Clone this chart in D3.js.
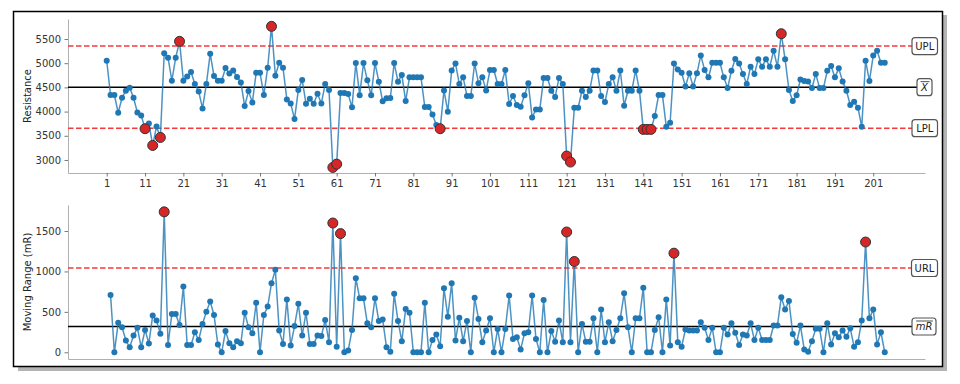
<!DOCTYPE html>
<html>
<head>
<meta charset="utf-8">
<script src="https://cdn.jsdelivr.net/npm/d3@7"></script>
<style>
  body { margin: 0; background: #fff; }
  text { font-family: "DejaVu Sans", sans-serif; }
</style>
</head>
<body>
<div id="chart"></div>
<script>
// individual values (resistance)
var resistance = [
  5051, 4341, 4341, 3976, 4286, 4431, 4493, 4286, 3983, 3921,
  3646, 3756, 3301, 3694, 3466, 5203, 5113, 4638, 5113, 5451,
  4638, 4727, 4817, 4569, 4417, 4066, 4569, 5196, 4734, 4638,
  4638, 4900, 4789, 4851, 4714, 4603, 4114, 4424, 4190, 4803,
  4803, 4341, 4906, 5761, 4741, 5010, 4906, 4252, 4169, 3845,
  4445, 4652, 4162, 4266, 4162, 4369, 4169, 4569, 4445, 2846,
  2915, 4383, 4383, 4362, 4087, 5003, 4335, 5003, 4645, 4335,
  5003, 4617, 4211, 4273, 4280, 5003, 4617, 4755, 4218, 4707,
  4707, 4707, 4707, 4093, 4093, 3942, 3721, 3646, 4438, 3997,
  4851, 4996, 4569, 4707, 4321, 4321, 4996, 4583, 4707, 4438,
  4858, 4858, 4569, 4569, 4858, 4156, 4321, 4135, 4100, 4335,
  4583, 3880, 4045, 4045, 4693, 4693, 4431, 4300, 4693, 4569,
  3081, 2957, 4080, 4080, 4431, 4300, 4431, 4851, 4851, 4321,
  4197, 4569, 4707, 4431, 4851, 4121, 4431, 4431, 4851, 4431,
  3632, 3632, 3632, 3907, 4341, 4341, 3687, 3770, 4996, 4872,
  4803, 4520, 4790, 4520, 4790, 5161, 4858, 4707, 5010, 5010,
  5010, 4707, 4486, 4844, 5086, 4996, 4776, 4569, 4927, 4776,
  5079, 4927, 5079, 4927, 5258, 4927, 5609, 5079, 4445, 4218,
  4335, 4665, 4631, 4624, 4486, 4776, 4486, 4486, 4844, 4941,
  4707, 4893, 4624, 4431, 4135, 4204, 4080, 3687, 5051, 4631,
  5161, 5258, 5010, 5010
];
var xTicks = [1, 11, 21, 31, 41, 51, 61, 71, 81, 91, 101, 111, 121, 131, 141, 151, 161, 171, 181, 191, 201];
var yTicksTop = [3000, 3500, 4000, 4500, 5000, 5500];
var yTicksBot = [0, 500, 1000, 1500];

// process limits
var xBar = 4505;
var mRBar = 319;
var UPL = xBar + 2.66 * mRBar;
var LPL = xBar - 2.66 * mRBar;
var URL = 3.268 * mRBar;

var points = resistance.map(function(v, i) { return {i: i + 1, v: v}; });
var mr = [];
for (var k = 1; k < resistance.length; k++) {
  mr.push({i: k + 1, v: Math.abs(resistance[k] - resistance[k - 1])});
}

var W = 960, H = 384;
var svg = d3.select("#chart").append("svg")
  .attr("width", W).attr("height", H);

// frame with shadow
svg.append("rect").attr("x", 18).attr("y", 15).attr("width", 929).attr("height", 356)
  .attr("fill", "#b4b4b4");
svg.append("rect").attr("x", 13.5).attr("y", 11.5).attr("width", 929).attr("height", 355)
  .attr("fill", "#fff").attr("stroke", "#000").attr("stroke-width", 1.5);

var x = d3.scaleLinear().domain([-9.1, 214.5]).range([68, 925]);
var yTop = d3.scaleLinear().domain([2731, 5913]).range([173, 19]);
var yBot = d3.scaleLinear().domain([-83, 1822]).range([359, 205]);

var spine = "#b0b0b0";
var blue = "#1f77b4";
var limRed = "#f03c3c";
var lineEnd = 912;

function styleAxis(g) {
  g.select(".domain").attr("stroke", spine).attr("stroke-width", 1);
  g.selectAll(".tick line").attr("stroke", "#555").attr("stroke-width", 0.8);
  g.selectAll(".tick text").attr("fill", "#333").style("font-size", "10px")
    .style("font-family", "DejaVu Sans");
}

function panel(y, data, yTicks, bottomTicks, label, limits, labels) {
  var gy = svg.append("g").attr("transform", "translate(68,0)")
    .call(d3.axisLeft(y).tickValues(yTicks).tickSize(3.5).tickPadding(3.5)
      .tickFormat(d3.format("d")).tickSizeOuter(0));
  styleAxis(gy);
  var yr = y.range();
  var gx = svg.append("g").attr("transform", "translate(0," + yr[0] + ")");
  if (bottomTicks) {
    gx.call(d3.axisBottom(x).tickValues(bottomTicks).tickSize(3.5).tickPadding(3.5)
      .tickFormat(d3.format("d")).tickSizeOuter(0));
  } else {
    gx.call(d3.axisBottom(x).tickValues([]).tickSizeOuter(0));
  }
  styleAxis(gx);

  svg.append("text")
    .attr("transform", "translate(27," + ((yr[0] + yr[1]) / 2) + ") rotate(-90)")
    .attr("text-anchor", "middle").attr("dy", "0.35em")
    .style("font-size", "10px").attr("fill", "#222")
    .text(label);

  // limit lines
  limits.forEach(function(l) {
    svg.append("line")
      .attr("x1", 68).attr("x2", l.end)
      .attr("y1", y(l.v)).attr("y2", y(l.v))
      .attr("stroke", l.center ? "#000" : limRed)
      .attr("stroke-width", 1.5)
      .attr("stroke-dasharray", l.center ? null : "5.5,2.5");
  });

  // data line
  var line = d3.line().x(function(d) { return x(d.i); }).y(function(d) { return y(d.v); });
  svg.append("path").datum(data)
    .attr("d", line).attr("fill", "none")
    .attr("stroke", blue).attr("stroke-opacity", 0.8).attr("stroke-width", 1.5);

  svg.append("g").selectAll("circle").data(data).enter().append("circle")
    .attr("cx", function(d) { return x(d.i); })
    .attr("cy", function(d) { return y(d.v); })
    .attr("r", 3).attr("fill", blue);

  var out = data.filter(function(d) { return d.v > limits[0].v || (limits.length > 2 && d.v < limits[2].v); });
  svg.append("g").selectAll("circle").data(out).enter().append("circle")
    .attr("cx", function(d) { return x(d.i); })
    .attr("cy", function(d) { return y(d.v); })
    .attr("r", 5).attr("fill", "#d62728")
    .attr("stroke", "#333").attr("stroke-width", 1);

  // limit labels
  labels.forEach(function(b) {
    var cy = y(b.v);
    var g = svg.append("g");
    g.append("rect")
      .attr("x", b.x0 + 0.5).attr("y", cy - 8.5)
      .attr("width", b.w).attr("height", 17)
      .attr("rx", 3).attr("ry", 3)
      .attr("fill", "#fff").attr("stroke", "#555").attr("stroke-width", 1.2);
    var t = g.append("text")
      .attr("x", b.x0 + 0.5 + b.w / 2).attr("y", cy)
      .attr("dy", "0.36em").attr("text-anchor", "middle")
      .style("font-size", "10px").attr("fill", "#222")
      .style("font-style", b.italic ? "italic" : "normal")
      .text(b.text);
    if (b.bar) {
      var bb = t.node().getBBox();
      g.append("line")
        .attr("x1", bb.x + 0.5).attr("x2", bb.x + bb.width + 0.5)
        .attr("y1", cy - 5.5).attr("y2", cy - 5.5)
        .attr("stroke", "#222").attr("stroke-width", 0.8);
    }
  });
}

panel(yTop, points, yTicksTop, xTicks, "Resistance",
  [{v: UPL, end: lineEnd}, {v: xBar, end: 917, center: true}, {v: LPL, end: lineEnd}],
  [{v: UPL, text: "UPL", x0: 911.5, w: 25.5},
   {v: xBar, text: "X", x0: 916.5, w: 15, italic: true, bar: true},
   {v: LPL, text: "LPL", x0: 911.5, w: 25.5}]);

panel(yBot, mr, yTicksBot, null, "Moving Range (mR)",
  [{v: URL, end: lineEnd}, {v: mRBar, end: lineEnd, center: true}],
  [{v: URL, text: "URL", x0: 911, w: 26},
   {v: mRBar, text: "mR", x0: 911.5, w: 24, italic: true, bar: true}]);
</script>
</body>
</html>
